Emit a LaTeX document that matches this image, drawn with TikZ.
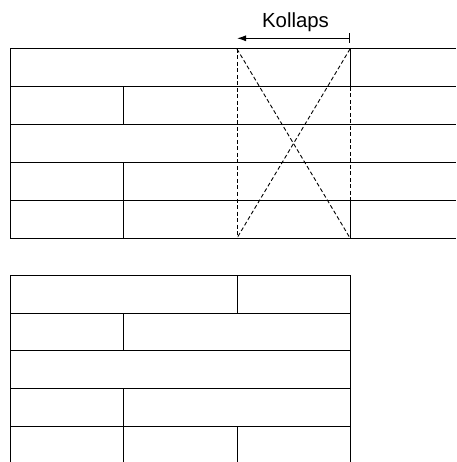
\documentclass[tikz,border=0pt]{standalone}
\usepackage{fontspec}
\setmainfont{Liberation Sans}
\usetikzlibrary{arrows.meta}
\begin{document}
\begin{tikzpicture}[x=1pt,y=-1pt,
  gridline/.style={line width=1pt,black},
  dashline/.style={line width=0.9pt,black,dash pattern=on 4pt off 2.5pt},
  lbl/.style={font=\fontsize{20.4}{24}\selectfont,inner sep=0pt,anchor=base}]
\useasboundingbox (0,0) rectangle (456,462);
% label and arrow
\node[lbl] (kollaps) at (295.5,27.3) {Kollaps};
\coordinate (ar) at (350,38.3);
\coordinate (al) at (237,38.3);
\draw[line width=1pt,{Bar[width=10pt]}-{Latex[length=9pt,width=6pt]}] (ar) -- (al);
% top grid
\foreach \y in {49,86.8,124.6,162.4,200.2,238}
  \draw[gridline] (10,\y) -- (456,\y);
\draw[gridline] (10,49) -- (10,238);
\draw[gridline] (123,86.8) -- (123,124.6);
\draw[gridline] (123,162.4) -- (123,238);
\draw[gridline] (350,49) -- (350,86.8);
\draw[gridline] (350,200.2) -- (350,238);
\draw[dashline] (237,49) -- (237,238);
\draw[dashline] (350,86.8) -- (350,200.2);
\draw[dashline] (237,49) -- (350,238);
\draw[dashline] (350,49) -- (237,238);
% bottom grid
\foreach \y in {275.3,313.1,350.9,388.7,426.5}
  \draw[gridline] (10,\y) -- (350,\y);
\draw[gridline] (10,275.3) -- (10,462);
\draw[gridline] (350,275.3) -- (350,462);
\draw[gridline] (237,275.3) -- (237,313.1);
\draw[gridline] (123,313.1) -- (123,350.9);
\draw[gridline] (123,388.7) -- (123,462);
\draw[gridline] (237,426.5) -- (237,462);
\end{tikzpicture}
\end{document}
